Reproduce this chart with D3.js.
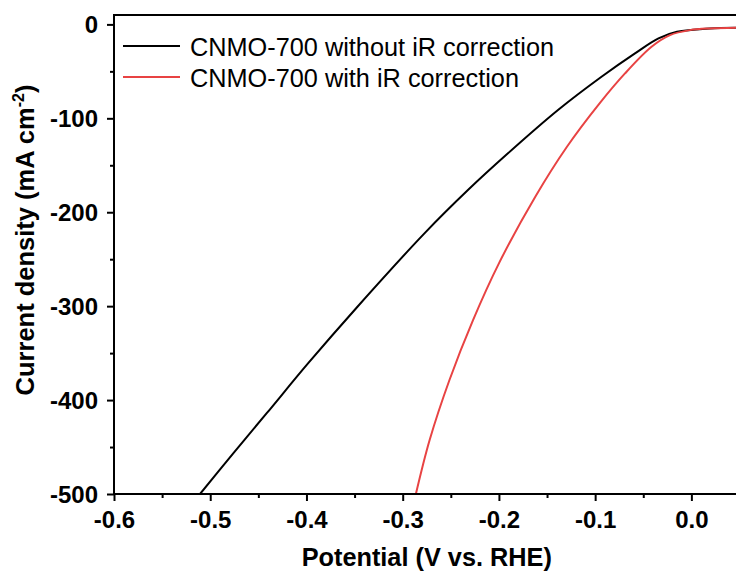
<!DOCTYPE html>
<html>
<head>
<meta charset="utf-8">
<script src="https://cdn.jsdelivr.net/npm/d3@7"></script>
<style>
  html, body { margin: 0; padding: 0; background: #fff; }
  svg { display: block; }
  text { font-family: "Liberation Sans", Arial, sans-serif; fill: #000; }
</style>
</head>
<body>
<svg id="chart" width="736" height="571"></svg>
<script>
// ---- data ----
const seriesNames = ["CNMO-700 without iR correction", "CNMO-700 with iR correction"];
const seriesColors = ["#000000", "#e84343"];

const potentialNoIR = [-0.5106, -0.4761, -0.4413, -0.3984, -0.3470, -0.2774, -0.2322, -0.1906, -0.1386, -0.0934, -0.0586, -0.0342, -0.0150, 0.019, 0.05];
const currentNoIR   = [-500, -456.7, -414, -361, -300.6, -222.5, -176.4, -137.3, -91.2, -55.8, -30.9, -14.9, -7.9, -4.3, -3.5];

const potentialIR = [-0.2863, -0.2720, -0.2514, -0.2269, -0.2000, -0.1622, -0.1293, -0.0954, -0.0690, -0.0414, -0.0222, -0.0015, 0.019, 0.05];
const currentIR   = [-500, -442.5, -378.6, -314.8, -254.4, -183.5, -130.3, -84.1, -52.2, -23.8, -11.4, -6.1, -4.3, -3.5];

const xTicks = [-0.6, -0.5, -0.4, -0.3, -0.2, -0.1, 0.0];
const xMinor = [-0.55, -0.45, -0.35, -0.25, -0.15, -0.05, 0.05];
const yTicks = [0, -100, -200, -300, -400, -500];
const yMinor = [-50, -150, -250, -350, -450];

const xTitle = "Potential (V vs. RHE)";

// ---- layout ----
const svg = d3.select("#chart");
const L = 114, R = 739.5, T = 15, B = 494;

const x = d3.scaleLinear().domain([-0.6, 0.05]).range([L, R]);
const y = d3.scaleLinear().domain([-500, 10]).range([B, T]);

svg.append("defs").append("clipPath").attr("id", "plotclip")
  .append("rect").attr("x", L).attr("y", T).attr("width", R - L).attr("height", B - T);

// series
const series = [
  { xs: potentialNoIR, ys: currentNoIR, color: seriesColors[0] },
  { xs: potentialIR, ys: currentIR, color: seriesColors[1] }
];
const line = d3.line().x(d => x(d[0])).y(d => y(d[1])).curve(d3.curveCatmullRom.alpha(0.5));
const g = svg.append("g").attr("clip-path", "url(#plotclip)");
series.forEach(s => {
  g.append("path")
    .datum(s.xs.map((v, i) => [v, s.ys[i]]))
    .attr("d", line)
    .attr("fill", "none")
    .attr("stroke", s.color)
    .attr("stroke-width", 2);
});

// frame
svg.append("rect").attr("x", L).attr("y", T).attr("width", R - L).attr("height", B - T)
  .attr("fill", "none").attr("stroke", "#000").attr("stroke-width", 2);

// axes (hyphen-minus labels like the original)
const fmtX = d => d.toFixed(1).replace("-0.0", "0.0");
const fmtY = d => String(d);

const xAxis = svg.append("g").attr("transform", `translate(0,${B})`)
  .call(d3.axisBottom(x).tickValues(xTicks).tickSize(7).tickPadding(10).tickFormat(fmtX));
const xAxisMinor = svg.append("g").attr("transform", `translate(0,${B})`)
  .call(d3.axisBottom(x).tickValues(xMinor).tickSize(4).tickFormat(""));
const yAxis = svg.append("g").attr("transform", `translate(${L},0)`)
  .call(d3.axisLeft(y).tickValues(yTicks).tickSize(7).tickPadding(9).tickFormat(fmtY));
const yAxisMinor = svg.append("g").attr("transform", `translate(${L},0)`)
  .call(d3.axisLeft(y).tickValues(yMinor).tickSize(4).tickFormat(""));

[xAxis, xAxisMinor, yAxis, yAxisMinor].forEach(a => {
  a.select(".domain").remove();
  a.selectAll(".tick line").attr("stroke", "#000").attr("stroke-width", 2);
});
[xAxis, yAxis].forEach(a => {
  a.selectAll(".tick text")
    .attr("font-family", "'Liberation Sans', Arial, sans-serif")
    .attr("font-size", 24).attr("font-weight", "bold").attr("fill", "#000");
});
xAxis.selectAll(".tick text").attr("dy", "0.71em");
yAxis.selectAll(".tick text").attr("dy", "0.35em");

// axis titles
svg.append("text")
  .attr("x", (L + R) / 2).attr("y", 566)
  .attr("text-anchor", "middle")
  .attr("font-size", 25.3).attr("font-weight", "bold")
  .text(xTitle);

const yt = svg.append("text")
  .attr("transform", `translate(34,240) rotate(-90)`)
  .attr("text-anchor", "middle")
  .attr("font-size", 25.5).attr("font-weight", "bold");
yt.append("tspan").text("Current density (mA cm");
yt.append("tspan").attr("dy", -10).attr("font-size", 16).text("-2");
yt.append("tspan").attr("dy", 10).text(")");

// legend
const legendY = [46, 77];
seriesNames.forEach((name, i) => {
  svg.append("line")
    .attr("x1", 123).attr("x2", 180).attr("y1", legendY[i]).attr("y2", legendY[i])
    .attr("stroke", seriesColors[i]).attr("stroke-width", 2);
  svg.append("text")
    .attr("x", 190).attr("y", legendY[i] + 9.5)
    .attr("font-size", 25.3)
    .text(name);
});
</script>
</body>
</html>
